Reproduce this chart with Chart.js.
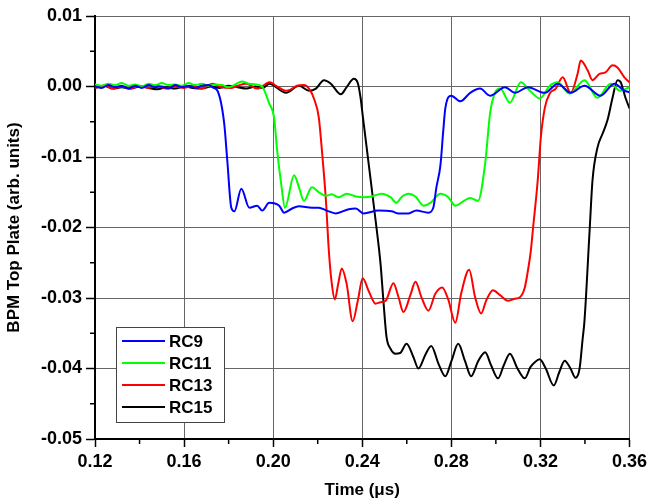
<!DOCTYPE html>
<html>
<head>
<meta charset="utf-8">
<script src="https://cdn.jsdelivr.net/npm/chart.js@4.4.0/dist/chart.umd.min.js"></script>
<style>
  html, body { margin:0; padding:0; background:#fff; }
  #wrap { width:651px; height:501px; }
</style>
</head>
<body>
<div id="wrap"><canvas id="bpm" width="651" height="501"></canvas></div>
<script>
// ====== DATA ======
const seriesNames  = ['RC9', 'RC11', 'RC13', 'RC15'];
const seriesColors = ['#0000ff', '#00ff00', '#ff0000', '#000000'];

const xTickValues = [0.12, 0.16, 0.20, 0.24, 0.28, 0.32, 0.36];
const xMinorTicks = [0.14, 0.18, 0.22, 0.26, 0.30, 0.34];
const yTickValues = [0.01, 0.00, -0.01, -0.02, -0.03, -0.04, -0.05];
const yMinorTicks = [0.005, -0.005, -0.015, -0.025, -0.035, -0.045];

// [time (us), signal]
const rc9 = [
  [0.120,0.0000],[0.123,-0.0002],[0.126,0.0002],[0.129,-0.0001],[0.132,0.0001],[0.135,-0.0003],
  [0.138,0.0001],[0.141,-0.0002],[0.144,0.0002],[0.147,-0.0001],[0.150,0.0000],[0.153,-0.0003],
  [0.156,0.0002],[0.159,-0.0001],[0.162,0.0001],[0.165,-0.0002],[0.168,0.0001],[0.171,0.0002],
  [0.1732,-0.0002],[0.1750,-0.0006],[0.1780,-0.0052],[0.1794,-0.0105],[0.1812,-0.0172],[0.1826,-0.0177],
  [0.1857,-0.0145],[0.1893,-0.0172],[0.1928,-0.0169],[0.1951,-0.0176],[0.1982,-0.0165],[0.2027,-0.0169],
  [0.2049,-0.0179],[0.2085,-0.0173],[0.2116,-0.0170],[0.2174,-0.0172],[0.2205,-0.0172],[0.2241,-0.0176],
  [0.2281,-0.0180],[0.2339,-0.0174],[0.2371,-0.0173],[0.2406,-0.0180],[0.2473,-0.0176],[0.2532,-0.0177],
  [0.2563,-0.0180],[0.2608,-0.0180],[0.2643,-0.0176],[0.2697,-0.0179],[0.2719,-0.0172],[0.2733,-0.0143],
  [0.2751,-0.0112],[0.2764,-0.0062],[0.2773,-0.0031],[0.2800,-0.0013],[0.2840,-0.0021],[0.2885,-0.0009],
  [0.2929,-0.0003],[0.2974,-0.0013],[0.3041,-0.0001],[0.3086,-0.0009],[0.3144,-0.0001],[0.3220,-0.0009],
  [0.3278,0.0004],[0.3336,-0.0009],[0.3398,0.0001],[0.3470,-0.0013],[0.3532,0.0004],[0.3577,-0.0006],
  [0.3600,-0.0008]
];

const rc11 = [
  [0.120,0.0003],[0.123,0.0001],[0.126,0.0004],[0.129,0.0002],[0.132,0.0005],[0.135,0.0001],
  [0.138,0.0003],[0.141,0.0000],[0.144,0.0004],[0.147,0.0002],[0.150,0.0005],[0.153,0.0002],
  [0.156,0.0003],[0.159,0.0001],[0.162,0.0005],[0.165,0.0002],[0.168,0.0004],[0.171,0.0001],
  [0.174,0.0003],[0.177,0.0002],[0.180,-0.0001],[0.183,0.0003],[0.186,0.0007],[0.189,0.0004],
  [0.192,0.0003],[0.195,0.0000],[0.1982,-0.0024],[0.2004,-0.0044],[0.2018,-0.0091],[0.2036,-0.0138],
  [0.2053,-0.0172],[0.2094,-0.0126],[0.2116,-0.0143],[0.2138,-0.0162],[0.2174,-0.0143],[0.2205,-0.0150],
  [0.2237,-0.0155],[0.2263,-0.0153],[0.2295,-0.0157],[0.2331,-0.0152],[0.2371,-0.0156],[0.2406,-0.0157],
  [0.2442,-0.0156],[0.2487,-0.0152],[0.2527,-0.0157],[0.2554,-0.0165],[0.2576,-0.0157],[0.2608,-0.0152],
  [0.2639,-0.0156],[0.2675,-0.0169],[0.2706,-0.0165],[0.2751,-0.0152],[0.2786,-0.0157],[0.2818,-0.0169],
  [0.2853,-0.0163],[0.2885,-0.0158],[0.2920,-0.0162],[0.2952,-0.0109],[0.2974,-0.0038],[0.2996,-0.0009],
  [0.3019,-0.0003],[0.3063,-0.0023],[0.3112,0.0006],[0.3153,-0.0006],[0.3197,-0.0017],[0.3242,0.0001],
  [0.3278,0.0006],[0.3331,-0.0010],[0.3398,0.0009],[0.3456,-0.0016],[0.3515,0.0004],[0.3559,-0.0006],
  [0.3600,-0.0001]
];

const rc13 = [
  [0.120,-0.0002],[0.124,0.0001],[0.128,-0.0003],[0.132,0.0000],[0.136,-0.0003],[0.140,0.0001],
  [0.144,-0.0002],[0.148,0.0001],[0.152,-0.0003],[0.156,0.0000],[0.160,-0.0002],[0.164,0.0001],
  [0.168,-0.0003],[0.1727,0.0004],[0.177,-0.0001],[0.181,-0.0002],[0.1839,0.0001],[0.1879,0.0004],
  [0.1928,-0.0003],[0.1985,0.0006],[0.2013,0.0001],[0.2058,-0.0006],[0.2080,-0.0004],[0.2107,0.0001],
  [0.2138,0.0002],[0.2161,-0.0003],[0.2183,-0.0017],[0.2205,-0.0044],[0.2219,-0.0091],[0.2237,-0.0162],
  [0.2250,-0.0233],[0.2263,-0.0279],[0.2277,-0.0302],[0.2292,-0.0280],[0.2308,-0.0258],[0.2330,-0.0280],
  [0.2357,-0.0333],[0.2380,-0.0304],[0.2402,-0.0272],[0.2429,-0.0290],[0.2460,-0.0308],[0.2482,-0.0306],
  [0.2505,-0.0304],[0.2540,-0.0279],[0.2563,-0.0299],[0.2585,-0.0320],[0.2616,-0.0296],[0.2639,-0.0277],
  [0.2666,-0.0299],[0.2697,-0.0318],[0.2728,-0.0294],[0.2759,-0.0285],[0.2786,-0.0302],[0.2818,-0.0335],
  [0.2844,-0.0294],[0.2880,-0.0260],[0.2907,-0.0299],[0.2934,-0.0322],[0.2956,-0.0304],[0.2987,-0.0289],
  [0.3019,-0.0296],[0.3054,-0.0304],[0.3086,-0.0301],[0.3108,-0.0299],[0.3130,-0.0285],[0.3144,-0.0261],
  [0.3157,-0.0233],[0.3166,-0.0204],[0.3188,-0.0133],[0.3202,-0.0072],[0.3220,-0.0030],[0.3242,-0.0010],
  [0.3269,-0.0003],[0.3300,0.0013],[0.3336,-0.0009],[0.3367,0.0018],[0.3381,0.0037],[0.3412,0.0023],
  [0.3434,0.0009],[0.3465,0.0018],[0.3492,0.0020],[0.3524,0.0030],[0.3546,0.0027],[0.3577,0.0013],
  [0.3600,0.0006]
];

const rc15 = [
  [0.120,-0.0002],[0.124,0.0001],[0.128,-0.0003],[0.132,-0.0001],[0.136,-0.0003],[0.140,0.0000],
  [0.144,-0.0002],[0.148,-0.0004],[0.152,-0.0001],[0.156,-0.0003],[0.160,0.0000],[0.164,-0.0002],
  [0.168,-0.0003],[0.172,0.0000],[0.176,-0.0002],[0.180,0.0001],[0.184,-0.0001],[0.188,-0.0003],
  [0.192,0.0000],[0.1955,-0.0002],[0.1982,0.0004],[0.2058,-0.0009],[0.2116,0.0001],[0.2161,-0.0006],
  [0.2192,-0.0003],[0.2228,0.0009],[0.2259,0.0004],[0.2304,-0.0011],[0.2330,-0.0001],[0.2362,0.0011],
  [0.2380,0.0005],[0.2393,-0.0017],[0.2402,-0.0041],[0.2431,-0.0115],[0.2460,-0.0190],[0.2482,-0.0251],
  [0.2496,-0.0308],[0.2509,-0.0355],[0.2527,-0.0372],[0.2549,-0.0379],[0.2570,-0.0378],[0.2599,-0.0365],
  [0.2630,-0.0384],[0.2652,-0.0400],[0.2684,-0.0380],[0.2710,-0.0368],[0.2742,-0.0393],[0.2773,-0.0411],
  [0.2800,-0.0390],[0.2831,-0.0365],[0.2862,-0.0390],[0.2889,-0.0411],[0.2920,-0.0390],[0.2952,-0.0377],
  [0.2978,-0.0395],[0.3010,-0.0414],[0.3036,-0.0395],[0.3063,-0.0379],[0.3097,-0.0400],[0.3130,-0.0414],
  [0.3155,-0.0398],[0.3175,-0.0391],[0.3197,-0.0387],[0.3224,-0.0400],[0.3260,-0.0424],[0.3285,-0.0405],
  [0.3309,-0.0389],[0.3335,-0.0400],[0.3358,-0.0413],[0.3376,-0.0400],[0.3389,-0.0360],[0.3398,-0.0332],
  [0.3421,-0.0204],[0.3434,-0.0133],[0.3456,-0.0087],[0.3479,-0.0067],[0.3501,-0.0048],[0.3524,-0.0016],
  [0.3546,0.0009],[0.3559,0.0007],[0.3582,-0.0016],[0.3600,-0.0031]
];

const seriesData = [rc9, rc11, rc13, rc15];

// ====== HELPERS ======
const FONT = 'Arial, "Liberation Sans", Helvetica, sans-serif';
const boldFont = (size) => ({ family: FONT, size, weight: 'bold' });

// small outward tick marks between the labelled ones
const minorTicks = {
  id: 'minorTicks',
  afterDraw(chart){
    const { ctx, chartArea: a, scales: { x, y } } = chart;
    ctx.save();
    ctx.strokeStyle = '#000'; ctx.lineWidth = 1.5;
    xMinorTicks.forEach(v => {
      const px = x.getPixelForValue(v);
      ctx.beginPath(); ctx.moveTo(px, a.bottom); ctx.lineTo(px, a.bottom + 5); ctx.stroke();
    });
    yMinorTicks.forEach(v => {
      const py = y.getPixelForValue(v);
      ctx.beginPath(); ctx.moveTo(a.left, py); ctx.lineTo(a.left - 5, py); ctx.stroke();
    });
    ctx.restore();
  }
};

// boxed legend sitting inside the plot, lower left
const boxLegend = {
  id: 'boxLegend',
  afterDraw(chart){
    const { ctx, chartArea: a } = chart;
    const bx = a.left + 21, by = a.bottom - 112, bw = 108, bh = 95;
    ctx.save();
    ctx.fillStyle = '#fff'; ctx.fillRect(bx, by, bw, bh);
    ctx.strokeStyle = '#444'; ctx.lineWidth = 1;
    ctx.strokeRect(bx + 0.5, by + 0.5, bw, bh);
    ctx.font = `bold 17px ${FONT}`;
    ctx.textBaseline = 'middle';
    chart.data.datasets.forEach((ds, i) => {
      const yy = by + 14 + i * 22;
      ctx.strokeStyle = ds.borderColor; ctx.lineWidth = 2;
      ctx.beginPath(); ctx.moveTo(bx + 6, yy); ctx.lineTo(bx + 49, yy); ctx.stroke();
      ctx.fillStyle = '#000';
      ctx.fillText(ds.label, bx + 53, yy + 1);
    });
    ctx.restore();
  }
};

// ====== CHART ======
const datasets = seriesData.map((pts, i) => ({
  label: seriesNames[i],
  data: pts.map(p => ({ x: p[0], y: p[1] })),
  borderColor: seriesColors[i],
  backgroundColor: seriesColors[i],
  borderWidth: 2,
  pointRadius: 0,
  fill: false,
  cubicInterpolationMode: 'monotone'
}));

const chart = new Chart(document.getElementById('bpm').getContext('2d'), {
  type: 'line',
  data: { datasets },
  options: {
    responsive: false,
    animation: false,
    devicePixelRatio: 1,
    layout: { padding: { left: 0, right: 19, top: 16, bottom: 0 } },
    plugins: { legend: { display: false }, tooltip: { enabled: false } },
    scales: {
      x: {
        type: 'linear', min: 0.12, max: 0.36,
        afterFit: s => { s.height = 62; },
        afterBuildTicks: s => { s.ticks = xTickValues.map(v => ({ value: v })); },
        ticks: { font: boldFont(18), color: '#000', padding: 4, maxRotation: 0, autoSkip: false,
                 callback: v => Number(v).toFixed(2) },
        grid: { color: '#666', lineWidth: 1, tickLength: 8, tickColor: '#000', tickWidth: 1.5 },
        border: { display: true, color: '#000', width: 2 },
        title: { display: true, text: 'Time (\u03bcs)', font: boldFont(17), color: '#000', padding: { top: 0, bottom: 0 } }
      },
      y: {
        type: 'linear', min: -0.05, max: 0.01,
        afterFit: s => { s.width = 95; },
        afterBuildTicks: s => { s.ticks = yTickValues.map(v => ({ value: v })); },
        ticks: { font: boldFont(18), color: '#000', padding: 4, autoSkip: false,
                 callback: v => Number(v).toFixed(2) },
        grid: { color: '#666', lineWidth: 1, tickLength: 9, tickColor: '#000', tickWidth: 1.5 },
        border: { display: true, color: '#000', width: 2 },
        title: { display: true, text: 'BPM Top Plate (arb. units)', font: boldFont(17), color: '#000', padding: { top: 4, bottom: 0 } }
      }
    }
  },
  plugins: [minorTicks, boxLegend]
});
</script>
</body>
</html>
